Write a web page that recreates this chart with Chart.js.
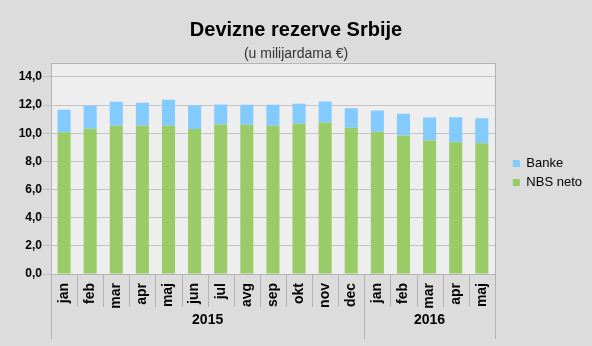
<!DOCTYPE html>
<html>
<head>
<meta charset="utf-8">
<script src="https://cdn.jsdelivr.net/npm/chart.js@4.4.1/dist/chart.umd.min.js"></script>
<style>
  html, body { margin: 0; padding: 0; background: #dcdcdc; }
  #wrap { width: 592px; height: 346px; position: relative; }
</style>
</head>
<body>
<div id="wrap"><canvas id="reserveChart"></canvas></div>
<script>
const months = ['jan', 'feb', 'mar', 'apr', 'maj', 'jun', 'jul', 'avg', 'sep', 'okt', 'nov', 'dec',
    'jan', 'feb', 'mar', 'apr', 'maj'];
const years = ['2015', '2016'];
const monthsPerYear = [12, 5];
const nbsNeto = [10.06, 10.32, 10.53, 10.53, 10.53, 10.29, 10.62, 10.60, 10.53, 10.67, 10.76, 10.39,
    10.10, 9.84, 9.49, 9.35, 9.28];
const banke = [1.60, 1.63, 1.70, 1.63, 1.84, 1.70, 1.42, 1.42, 1.49, 1.42, 1.49, 1.39,
    1.51, 1.54, 1.63, 1.79, 1.79];

const FONT = "'Liberation Sans', Arial, sans-serif";
const frameColor = '#b3b3b3';

// plot background + frame, month/year separators and year labels under the axis
const plotFramePlugin = {
    id: 'plotFrame',
    beforeDraw(chart) {
        const { ctx, chartArea: a } = chart;
        ctx.save();
        ctx.fillStyle = '#eeeeee';
        ctx.fillRect(a.left, a.top, a.right - a.left, a.bottom - a.top);
        ctx.restore();
    },
    afterDraw(chart) {
        const { ctx, chartArea: a } = chart;
        const step = (a.right - a.left) / months.length;
        ctx.save();
        ctx.strokeStyle = frameColor;
        ctx.lineWidth = 1;
        ctx.strokeRect(Math.round(a.left) + 0.5, Math.round(a.top) + 0.5,
            Math.round(a.right - a.left), Math.round(a.bottom - a.top));

        const yearEdges = [0];
        monthsPerYear.forEach((n, i) => yearEdges.push(yearEdges[i] + n));
        for (let i = 0; i <= months.length; i++) {
            const px = Math.round(a.left + i * step) + 0.5;
            const long = yearEdges.includes(i);
            ctx.beginPath();
            ctx.moveTo(px, a.bottom);
            ctx.lineTo(px, a.bottom + (long ? 65 : 33));
            ctx.stroke();
        }

        ctx.fillStyle = '#000';
        ctx.font = 'bold 14px ' + FONT;
        ctx.textAlign = 'center';
        ctx.textBaseline = 'middle';
        years.forEach((yr, i) => {
            const x0 = a.left + yearEdges[i] * step;
            const x1 = a.left + yearEdges[i + 1] * step;
            ctx.fillText(yr, (x0 + x1) / 2, a.bottom + 46);
        });
        ctx.restore();
    }
};

Chart.register(plotFramePlugin);

new Chart(document.getElementById('reserveChart'), {
    type: 'bar',
    data: {
        labels: months,
        datasets: [
            {
                label: 'NBS neto',
                data: nbsNeto,
                backgroundColor: '#99cc66',
                barPercentage: 0.5,
                categoryPercentage: 1
            },
            {
                label: 'Banke',
                data: banke,
                backgroundColor: '#83caff',
                barPercentage: 0.5,
                categoryPercentage: 1
            }
        ]
    },
    options: {
        responsive: true,
        maintainAspectRatio: false,
        animation: false,
        layout: { padding: { left: 0, right: 0, top: 0, bottom: 0 } },
        plugins: {
            title: {
                display: true,
                text: 'Devizne rezerve Srbije',
                color: '#000',
                font: { family: FONT, size: 20, weight: 'bold' },
                padding: { top: 18, bottom: 0 }
            },
            subtitle: {
                display: true,
                text: '(u milijardama €)',
                color: '#333',
                font: { family: FONT, size: 14 },
                padding: { top: 4, bottom: 0 }
            },
            legend: {
                position: 'right',
                reverse: true,
                labels: {
                    boxWidth: 7,
                    boxHeight: 7,
                    padding: 6,
                    color: '#000',
                    font: { family: FONT, size: 13 }
                }
            },
            tooltip: { enabled: false }
        },
        scales: {
            x: {
                stacked: true,
                grid: { display: false, drawTicks: false },
                border: { display: false },
                ticks: {
                    color: '#000',
                    font: { family: FONT, size: 14, weight: 'bold' },
                    minRotation: 90,
                    maxRotation: 90,
                    padding: 9,
                    autoSkip: false
                },
                afterFit(scale) { scale.height = 72; }
            },
            y: {
                stacked: true,
                min: 0,
                max: 15,
                grid: { color: '#c4c4c4', tickLength: 9 },
                border: { display: false },
                ticks: {
                    stepSize: 2,
                    padding: 0,
                    color: '#000',
                    font: { family: FONT, size: 12, weight: 'bold' },
                    callback: v => v.toFixed(1).replace('.', ',')
                },
                afterBuildTicks(scale) {
                    scale.ticks = scale.ticks.filter(t => t.value <= 14);
                },
                afterFit(scale) { scale.width = 51; }
            },
            gap: {
                position: 'right',
                display: true,
                grid: { display: false },
                border: { display: false },
                ticks: { display: false },
                afterFit(scale) { scale.width = 12; }
            }
        }
    }
});
</script>
</body>
</html>
